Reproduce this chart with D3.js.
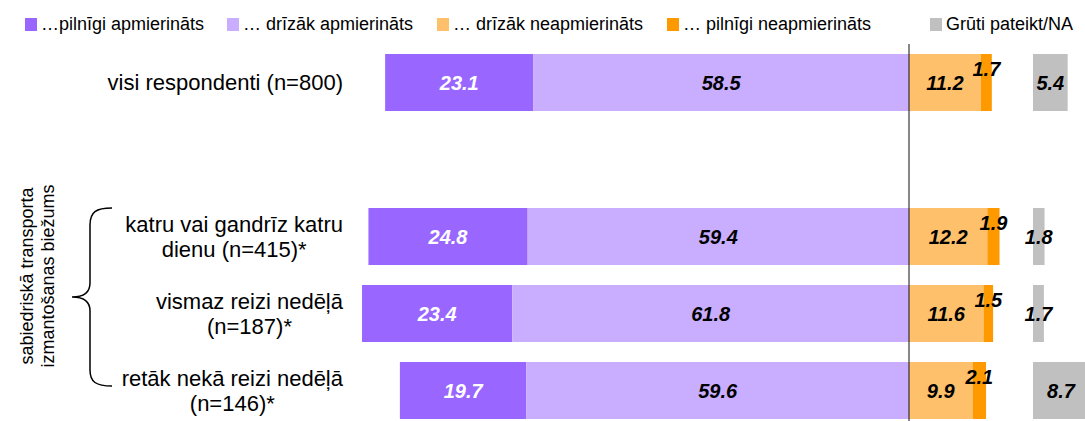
<!DOCTYPE html>
<html>
<head>
<meta charset="utf-8">
<script src="https://cdn.jsdelivr.net/npm/d3@7"></script>
<style>
  body { margin: 0; background: #fff; }
  svg { display: block; font-family: Arial, "Liberation Sans", sans-serif; }
</style>
</head>
<body>
<div id="chart"></div>
<script>
// categories (each label may wrap on two lines), [] is the empty spacer row
const categories = [
  ["visi respondenti (n=800)"],
  [],
  ["katru vai gandrīz katru", "dienu (n=415)*"],
  ["vismaz reizi nedēļā", "(n=187)*"],
  ["retāk nekā reizi nedēļā", "(n=146)*"]
];
const rowIds = ["all", "gap", "daily", "weekly", "rarely"];
const barRows = ["all", "daily", "weekly", "rarely"];

// series values (%)
const pilnigiApm = [23.1, 24.8, 23.4, 19.7];
const drizakApm = [58.5, 59.4, 61.8, 59.6];
const drizakNeapm = [11.2, 12.2, 11.6, 9.9];
const pilnigiNeapm = [1.7, 1.9, 1.5, 2.1];
const grutiNA = [5.4, 1.8, 1.7, 8.7];

const legendLabels = ["…pilnīgi apmierināts", "… drīzāk apmierināts", "… drīzāk neapmierināts", "… pilnīgi neapmierināts", "Grūti pateikt/NA"];
const colors = ["#9966ff", "#c9aeff", "#ffc06c", "#ff9900", "#c0c0c0"];
const groupTitle = ["sabiedriskā transporta", "izmantošanas biežums"];

const width = 1085, height = 421;
const svg = d3.select("#chart").append("svg")
  .attr("width", width)
  .attr("height", height);

// diverging scale: negative = satisfied (left), positive = dissatisfied (right)
const x = d3.scaleLinear().domain([-100, 20]).range([909 - 642, 909 + 128.4]);
const xg = d3.scaleLinear().domain([0, 10]).range([1033, 1033 + 64.2]);
const y = d3.scaleBand().domain(rowIds).range([44, 429]).paddingInner(0.26).paddingOuter(0.13);

// build segments
const segs = [];
barRows.forEach(function(r, i) {
  const a = pilnigiApm[i], b = drizakApm[i], c = drizakNeapm[i], d = pilnigiNeapm[i];
  segs.push({ row: r, x0: -(a + b), x1: -b, v: a, k: 0 });
  segs.push({ row: r, x0: -b, x1: 0, v: b, k: 1 });
  segs.push({ row: r, x0: 0, x1: c, v: c, k: 2 });
  segs.push({ row: r, x0: c, x1: c + d, v: d, k: 3 });
});

const g = svg.append("g");
g.selectAll("rect.seg")
  .data(segs)
  .enter()
  .append("rect")
  .attr("class", "seg")
  .attr("x", d => x(d.x0))
  .attr("width", d => x(d.x1) - x(d.x0))
  .attr("y", d => y(d.row))
  .attr("height", y.bandwidth())
  .attr("fill", d => colors[d.k]);

g.selectAll("rect.na")
  .data(barRows)
  .enter()
  .append("rect")
  .attr("class", "na")
  .attr("x", xg(0))
  .attr("width", (d, i) => xg(grutiNA[i]) - xg(0))
  .attr("y", d => y(d))
  .attr("height", y.bandwidth())
  .attr("fill", colors[4]);

// zero line
svg.append("line")
  .attr("x1", x(0)).attr("x2", x(0))
  .attr("y1", 44).attr("y2", height)
  .attr("stroke", "#111")
  .attr("stroke-width", 1);

// value labels
g.selectAll("text.val")
  .data(segs)
  .enter()
  .append("text")
  .attr("class", "val")
  .attr("x", d => (x(d.x0) + x(d.x1)) / 2)
  .attr("y", d => y(d.row) + y.bandwidth() / 2 + (d.k === 3 ? -14 : 0))
  .attr("text-anchor", "middle")
  .attr("dominant-baseline", "central")
  .attr("font-size", 20)
  .attr("font-weight", "bold")
  .attr("font-style", "italic")
  .attr("fill", d => d.k === 0 ? "#fff" : "#000")
  .text(d => d.v.toFixed(1));

g.selectAll("text.naval")
  .data(barRows)
  .enter()
  .append("text")
  .attr("class", "naval")
  .attr("x", (d, i) => (xg(0) + xg(grutiNA[i])) / 2)
  .attr("y", d => y(d) + y.bandwidth() / 2)
  .attr("text-anchor", "middle")
  .attr("dominant-baseline", "central")
  .attr("font-size", 20)
  .attr("font-weight", "bold")
  .attr("font-style", "italic")
  .attr("fill", "#000")
  .text((d, i) => grutiNA[i].toFixed(1));

// category labels: block right-aligned, lines centred within block
const labelRight = 343, lineH = 25;
rowIds.forEach(function(r, i) {
  const lines = categories[i];
  if (!lines.length) return;
  const cy = y(r) + y.bandwidth() / 2;
  const t = svg.append("text")
    .attr("text-anchor", "middle")
    .attr("font-size", 22)
    .attr("fill", "#000");
  const spans = lines.map(function(l, j) {
    return t.append("tspan")
      .attr("y", cy + (j - (lines.length - 1) / 2) * lineH)
      .attr("dominant-baseline", "central")
      .text(l);
  });
  const w = d3.max(spans, s => s.node().getComputedTextLength());
  spans.forEach(s => s.attr("x", labelRight - w / 2));
});

// group brace + rotated title
svg.append("path")
  .attr("d", "M112,208 C96,208 90,212 90,225 L90,283 C90,292 85,297 72,297 C85,297 90,302 90,311 L90,370 C90,382 96,386 112,386")
  .attr("fill", "none")
  .attr("stroke", "#000")
  .attr("stroke-width", 1.5);

groupTitle.forEach(function(l, j) {
  svg.append("text")
    .attr("transform", "translate(" + (27 + j * 21) + ",276) rotate(-90)")
    .attr("text-anchor", "middle")
    .attr("dominant-baseline", "central")
    .attr("font-size", 18)
    .attr("fill", "#000")
    .text(l);
});

// legend
const legendX = [25, 227, 437, 667, 930];
const lg = svg.append("g").selectAll("g")
  .data(legendLabels)
  .enter()
  .append("g")
  .attr("transform", (d, i) => "translate(" + legendX[i] + ",0)");
lg.append("rect")
  .attr("x", 0).attr("y", 18)
  .attr("width", 12).attr("height", 13)
  .attr("fill", (d, i) => colors[i]);
lg.append("text")
  .attr("x", 16).attr("y", 24)
  .attr("dominant-baseline", "central")
  .attr("font-size", 18)
  .attr("fill", "#000")
  .text(d => d);
</script>
</body>
</html>
